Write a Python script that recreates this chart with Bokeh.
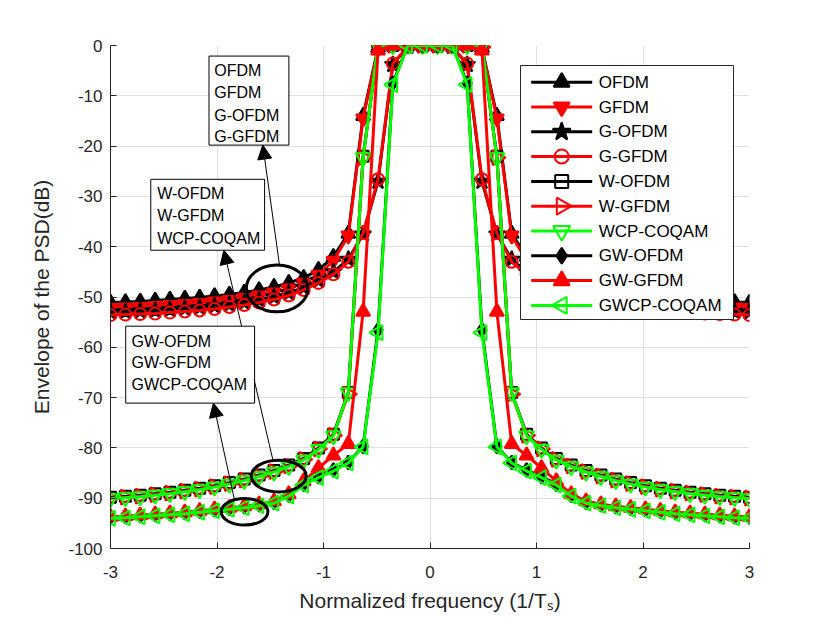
import math
from bokeh.plotting import figure
from bokeh.models import (Range1d, FixedTicker, BoxAnnotation, Label, Arrow, NormalHead)
from bokeh.embed import file_html
from bokeh.resources import INLINE

# ---------------- data ----------------
freq = [-3.000, -2.860, -2.721, -2.581, -2.442, -2.302, -2.163, -2.023, -1.884, -1.744,
        -1.605, -1.465, -1.326, -1.186, -1.047, -0.907, -0.767, -0.628, -0.488, -0.349,
        -0.209, -0.070,
        0.070, 0.209, 0.349, 0.488, 0.628, 0.767, 0.907, 1.047, 1.186, 1.326,
        1.465, 1.605, 1.744, 1.884, 2.023, 2.163, 2.302, 2.442, 2.581, 2.721,
        2.860, 3.000]

ofdm = [-51.1, -51.0, -50.9, -50.7, -50.5, -50.3, -50.1, -49.8, -49.5, -49.1, -48.6, -48.0,
        -47.2, -46.2, -44.6, -42.0, -37.4, -14.0, -0.5, 0.0, 0.0, 0.0,
        0.0, 0.0, 0.0, -0.5, -14.0, -37.4, -42.0, -44.6, -46.2, -47.2, -48.0, -48.6,
        -49.1, -49.5, -49.8, -50.1, -50.3, -50.5, -50.7, -50.9, -51.0, -51.1]
gfdm = [-52.2, -52.1, -52.0, -51.8, -51.6, -51.4, -51.2, -50.9, -50.6, -50.2, -49.7, -49.1,
        -48.3, -47.2, -45.6, -42.8, -37.8, -14.5, -0.6, 0.0, 0.0, 0.0,
        0.0, 0.0, 0.0, -0.6, -14.5, -37.8, -42.8, -45.6, -47.2, -48.3, -49.1, -49.7,
        -50.2, -50.6, -50.9, -51.2, -51.4, -51.6, -51.8, -52.0, -52.1, -52.2]
g_ofdm = [-53.0, -52.9, -52.8, -52.7, -52.5, -52.3, -52.1, -51.8, -51.5, -51.1, -50.6, -50.0,
          -49.2, -48.1, -46.7, -45.0, -42.5, -37.5, -27.0, -3.8, -0.2, 0.0,
          0.0, -0.2, -3.8, -27.0, -37.5, -42.5, -45.0, -46.7, -48.1, -49.2, -50.0, -50.6,
          -51.1, -51.5, -51.8, -52.1, -52.3, -52.5, -52.7, -52.8, -52.9, -53.0]
g_gfdm = [-53.6, -53.5, -53.4, -53.3, -53.1, -52.9, -52.7, -52.4, -52.0, -51.6, -51.1, -50.5,
          -49.7, -48.6, -47.2, -45.5, -43.0, -37.3, -26.6, -3.6, -0.3, 0.0,
          0.0, -0.3, -3.6, -26.6, -37.3, -43.0, -45.5, -47.2, -48.6, -49.7, -50.5, -51.1,
          -51.6, -52.0, -52.4, -52.7, -52.9, -53.1, -53.3, -53.4, -53.5, -53.6]
w_ofdm = [-89.8, -89.6, -89.4, -89.1, -88.8, -88.4, -88.0, -87.5, -86.9, -86.2, -85.4, -84.5,
          -83.4, -82.1, -80.0, -77.3, -69.0, -22.0, -0.3, 0.0, 0.0, 0.0,
          0.0, 0.0, 0.0, -0.3, -22.0, -69.0, -77.3, -80.0, -82.1, -83.4, -84.5, -85.4,
          -86.2, -86.9, -87.5, -88.0, -88.4, -88.8, -89.1, -89.4, -89.6, -89.8]
w_gfdm = [-90.0, -89.8, -89.6, -89.3, -89.0, -88.6, -88.2, -87.7, -87.1, -86.4, -85.6, -84.7,
          -83.6, -82.3, -80.2, -77.5, -69.3, -22.3, -0.3, 0.0, 0.0, 0.0,
          0.0, 0.0, 0.0, -0.3, -22.3, -69.3, -77.5, -80.2, -82.3, -83.6, -84.7, -85.6,
          -86.4, -87.1, -87.7, -88.2, -88.6, -89.0, -89.3, -89.6, -89.8, -90.0]
wcp_coqam = [-90.1, -89.9, -89.7, -89.4, -89.1, -88.7, -88.3, -87.8, -87.2, -86.5, -85.7, -84.8,
             -83.7, -82.4, -80.3, -77.6, -69.0, -22.3, 0.0, 0.0, 0.0, 0.0,
             0.0, 0.0, 0.0, 0.0, -22.3, -69.0, -77.6, -80.3, -82.4, -83.7, -84.8, -85.7,
             -86.5, -87.2, -87.8, -88.3, -88.7, -89.1, -89.4, -89.7, -89.9, -90.1]
gw_ofdm = [-93.8, -93.7, -93.5, -93.3, -93.1, -92.9, -92.6, -92.3, -92.0, -91.7, -91.3, -90.8,
           -89.4, -87.2, -85.7, -84.4, -82.9, -79.7, -56.5, -7.5, 0.0, 0.0,
           0.0, 0.0, -7.5, -56.5, -79.7, -82.9, -84.4, -85.7, -87.2, -89.4, -90.8, -91.3,
           -91.7, -92.0, -92.3, -92.6, -92.9, -93.1, -93.3, -93.5, -93.7, -93.8]
gw_gfdm = [-93.7, -93.6, -93.4, -93.2, -93.0, -92.8, -92.5, -92.2, -91.9, -91.6, -91.2, -90.6,
           -89.2, -86.6, -84.0, -81.5, -79.2, -52.9, -1.0, 0.0, 0.0, 0.0,
           0.0, 0.0, 0.0, -1.0, -52.9, -79.2, -81.5, -84.0, -86.6, -89.2, -90.6, -91.2,
           -91.6, -91.9, -92.2, -92.5, -92.8, -93.0, -93.2, -93.4, -93.6, -93.7]
gwcp_coqam = [-94.0, -93.9, -93.7, -93.5, -93.3, -93.1, -92.8, -92.5, -92.2, -91.9, -91.5, -91.0,
              -89.6, -87.4, -85.9, -84.6, -83.0, -79.8, -57.1, -7.8, 0.0, 0.0,
              0.0, 0.0, -7.8, -57.1, -79.8, -83.0, -84.6, -85.9, -87.4, -89.6, -91.0, -91.5,
              -91.9, -92.2, -92.5, -92.8, -93.1, -93.3, -93.5, -93.7, -93.9, -94.0]

series_names = ["OFDM", "GFDM", "G-OFDM", "G-GFDM", "W-OFDM", "W-GFDM", "WCP-COQAM",
                "GW-OFDM", "GW-GFDM", "GWCP-COQAM"]
series_values = [ofdm, gfdm, g_ofdm, g_gfdm, w_ofdm, w_gfdm, wcp_coqam, gw_ofdm, gw_gfdm, gwcp_coqam]

x_ticks = [-3, -2, -1, 0, 1, 2, 3]
x_tick_labels = ["-3", "-2", "-1", "0", "1", "2", "3"]
y_ticks = [0, -10, -20, -30, -40, -50, -60, -70, -80, -90, -100]
y_tick_labels = ["0", "-10", "-20", "-30", "-40", "-50", "-60", "-70", "-80", "-90", "-100"]

group_texts = [["OFDM", "GFDM", "G-OFDM", "G-GFDM"],
               ["W-OFDM", "W-GFDM", "WCP-COQAM"],
               ["GW-OFDM", "GW-GFDM", "GWCP-COQAM"]]

# ---------------- styles ----------------
BLACK, RED, GREEN = "#000000", "#ff0000", "#00ff00"
styles = [
    dict(color=BLACK, marker="triangle", fill=BLACK, size=14, angle=0.0),
    dict(color=RED, marker="inverted_triangle", fill=RED, size=14, angle=0.0),
    dict(color=BLACK, marker="star", fill=BLACK, size=17, angle=0.0),
    dict(color=RED, marker="circle", fill=None, size=12, angle=0.0),
    dict(color=BLACK, marker="square", fill=None, size=11, angle=0.0),
    dict(color=RED, marker="triangle", fill=None, size=15, angle=-math.pi / 2),
    dict(color=GREEN, marker="inverted_triangle", fill=None, size=15, angle=0.0),
    dict(color=BLACK, marker="diamond", fill=BLACK, size=14, angle=0.0),
    dict(color=RED, marker="triangle", fill=RED, size=14, angle=0.0),
    dict(color=GREEN, marker="triangle", fill=None, size=15, angle=math.pi / 2),
]

FONT = "Liberation Sans"
AX = "#262626"

# frame placement (canvas pixels)
W, H = 828, 620
FRAME_L, FRAME_R, FRAME_T, FRAME_B = 110, 749, 45, 548


def px_x(px):
    return -3 + (px - FRAME_L) * 6.0 / (FRAME_R - FRAME_L)


def px_y(py):
    return -(py - FRAME_T) * 100.0 / (FRAME_B - FRAME_T)


p = figure(width=W, height=H, x_range=Range1d(-3, 3), y_range=Range1d(-100, 0),
           output_backend="svg", toolbar_location=None,
           min_border_left=FRAME_L, min_border_right=W - FRAME_R,
           min_border_top=FRAME_T, min_border_bottom=H - FRAME_B)
p.background_fill_color = "white"
p.border_fill_color = "white"
p.outline_line_color = None

for ax in (p.xaxis[0], p.yaxis[0]):
    ax.axis_line_color = AX
    ax.major_tick_line_color = AX
    ax.major_tick_in = 6
    ax.major_tick_out = 0
    ax.minor_tick_line_color = None
    ax.major_label_text_font = FONT
    ax.major_label_text_font_size = "17px"
    ax.major_label_text_color = AX
    ax.axis_label_text_font = FONT
    ax.axis_label_text_font_size = "21px"
    ax.axis_label_text_font_style = "normal"
    ax.axis_label_text_color = AX

p.xaxis.ticker = FixedTicker(ticks=x_ticks)
p.xaxis.major_label_overrides = dict(zip(x_ticks, x_tick_labels))
p.yaxis.ticker = FixedTicker(ticks=y_ticks)
p.yaxis.major_label_overrides = dict(zip(y_ticks, y_tick_labels))
p.xaxis.major_label_standoff = 17
p.yaxis.major_label_standoff = 8

p.yaxis.axis_label = "Envelope of the PSD(dB)"
p.yaxis.axis_label_standoff = 12
p.xaxis.axis_label = "Normalized frequency (1/T\u209b)"
p.xaxis.axis_label_standoff = 8

p.xgrid.grid_line_color = "#dfdfdf"
p.ygrid.grid_line_color = "#dfdfdf"

for name, vals, st in zip(series_names, series_values, styles):
    p.line(freq, vals, line_color=st["color"], line_width=3)
    p.scatter(freq, vals, marker=st["marker"], size=st["size"], angle=st["angle"],
              line_color=st["color"], line_width=2,
              fill_color=st["fill"], fill_alpha=1.0 if st["fill"] else 0.0)

# ---------------- legend (drawn as a MATLAB-style key) ----------------
LEG_L, LEG_R, LEG_T, LEG_B = 520, 733, 65, 319
ROW0, ROW_STEP = 81.7, 24.8
KEY_X0, KEY_X1, KEY_TEXT = 530.7, 591.7, 598.3
p.quad(left=[px_x(LEG_L)], right=[px_x(LEG_R)], top=[px_y(LEG_T)], bottom=[px_y(LEG_B)],
       fill_color="white", line_color=AX, line_width=1)
for i, (name, st) in enumerate(zip(series_names, styles)):
    yc = px_y(ROW0 + ROW_STEP * i)
    p.line([px_x(KEY_X0), px_x(KEY_X1)], [yc, yc], line_color=st["color"], line_width=3)
    p.scatter([px_x((KEY_X0 + KEY_X1) / 2)], [yc], marker=st["marker"], size=st["size"] + 2,
              angle=st["angle"], line_color=st["color"], line_width=2,
              fill_color=st["fill"], fill_alpha=1.0 if st["fill"] else 0.0)
    p.add_layout(Label(x=px_x(KEY_TEXT), y=yc, text=name, text_align="left",
                       text_baseline="middle", text_font=FONT, text_font_size="17px",
                       text_color="black"))

# ---------------- annotations: ellipses, arrows, text boxes ----------------
ell_x = [-1.436, -1.420, -1.741]
ell_y = [-48.3, -85.6, -92.7]
ell_w = [0.578, 0.516, 0.438]
ell_h = [9.3, 6.3, 5.3]
p.ellipse(x=ell_x, y=ell_y, width=ell_w, height=ell_h, fill_color=None,
          line_color="black", line_width=3)

arrow_start_x = [-1.413, -1.475, -1.835]
arrow_start_y = [-43.7, -82.4, -90.4]
arrow_end_x = [-1.570, -1.936, -2.034]
arrow_end_y = [-19.8, -40.7, -71.1]
for xs, ys, xe, ye in zip(arrow_start_x, arrow_start_y, arrow_end_x, arrow_end_y):
    p.add_layout(Arrow(x_start=xs, y_start=ys, x_end=xe, y_end=ye, line_color="black",
                       line_width=1,
                       end=NormalHead(size=14, fill_color="black", line_color="black")))

box_left = [-2.075, -2.622, -2.857]
box_right = [-1.325, -1.553, -1.647]
box_top = [-2.1, -26.6, -55.8]
box_bottom = [-19.8, -40.7, -71.1]
text_x = [-2.025, -2.562, -2.803]
text_y = [[-5.05, -9.42, -13.86, -18.17], [-29.5, -33.8, -38.3], [-58.9, -63.1, -67.3]]
for i in range(3):
    p.add_layout(BoxAnnotation(left=box_left[i], right=box_right[i], top=box_top[i],
                               bottom=box_bottom[i], fill_color="white", fill_alpha=1.0,
                               line_color="black", line_alpha=1.0, line_width=1,
                               level="annotation"))
    for t, ty in zip(group_texts[i], text_y[i]):
        p.add_layout(Label(x=text_x[i], y=ty, text=t, text_align="left",
                           text_baseline="middle", text_font=FONT,
                           text_font_size="16px", text_color="black"))

open("out.html", "w").write(file_html(p, INLINE))
